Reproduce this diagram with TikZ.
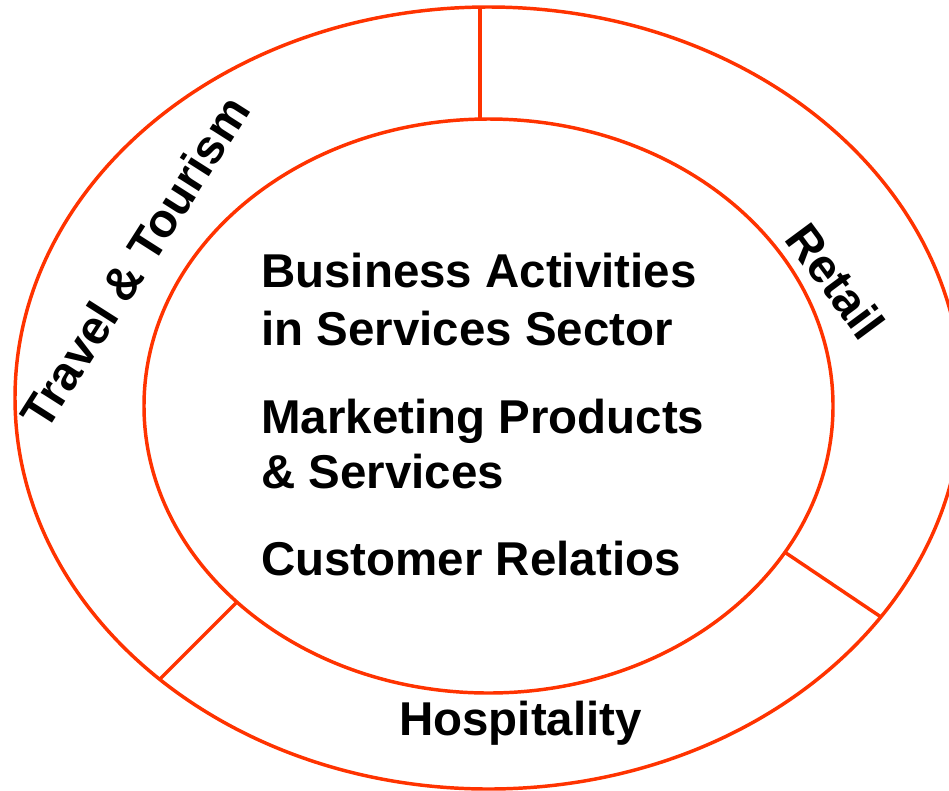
\documentclass[tikz,border=0pt]{standalone}
\usepackage{fontspec}
\setmainfont{Liberation Sans}
\usepackage{tikz}
\usepackage{color}
\definecolor{ringred}{HTML}{FF3300}

\tikzset{ring/.style={draw=ringred,line width=2.6pt},
  sectortext/.style={font=\fontsize{35.6}{42}\selectfont\bfseries,inner sep=0pt}}

\begin{document}
\begin{tikzpicture}[x=0.75pt,y=-0.75pt]
\useasboundingbox (0,0) rectangle (949,790);
\clip (0,0) rectangle (949,790);
\draw[ring] (488.5,398) ellipse [x radius=473.5, y radius=391];
\draw[ring] (488.5,406) ellipse [x radius=344.5, y radius=287];
\coordinate (topin) at (480,119);
\coordinate (topout) at (480,7);
\coordinate (rightin) at (786,553);
\coordinate (rightout) at (881,617);
\coordinate (leftin) at (236,603);
\coordinate (leftout) at (160,679);
\draw[ring] (topin) -- (topout);
\draw[ring] (rightin) -- (rightout);
\draw[ring] (leftin) -- (leftout);
%\draw (488.5,406) circle [radius=5];

\node[sectortext,anchor=base west] (biz) at (261,287) {Business Activities};
\node[sectortext,anchor=base west] (biz2) at (261,345) {in Services Sector};
\node[sectortext,anchor=base west] (mkt) at (261,433) {Marketing Products};
\node[sectortext,anchor=base west] (mkt2) at (261,488) {\& Services};
\node[sectortext,anchor=base west] (cust) at (261,575) {Customer Relatios};

\node[sectortext,rotate=57.5] (travel) at (135,262) {Travel \& Tourism};
\node[sectortext,rotate=-53.5] (retail) at (836,281) {Retail};
\node[sectortext,anchor=base west] (hosp) at (399,735) {Hospitality};
\end{tikzpicture}
\end{document}
